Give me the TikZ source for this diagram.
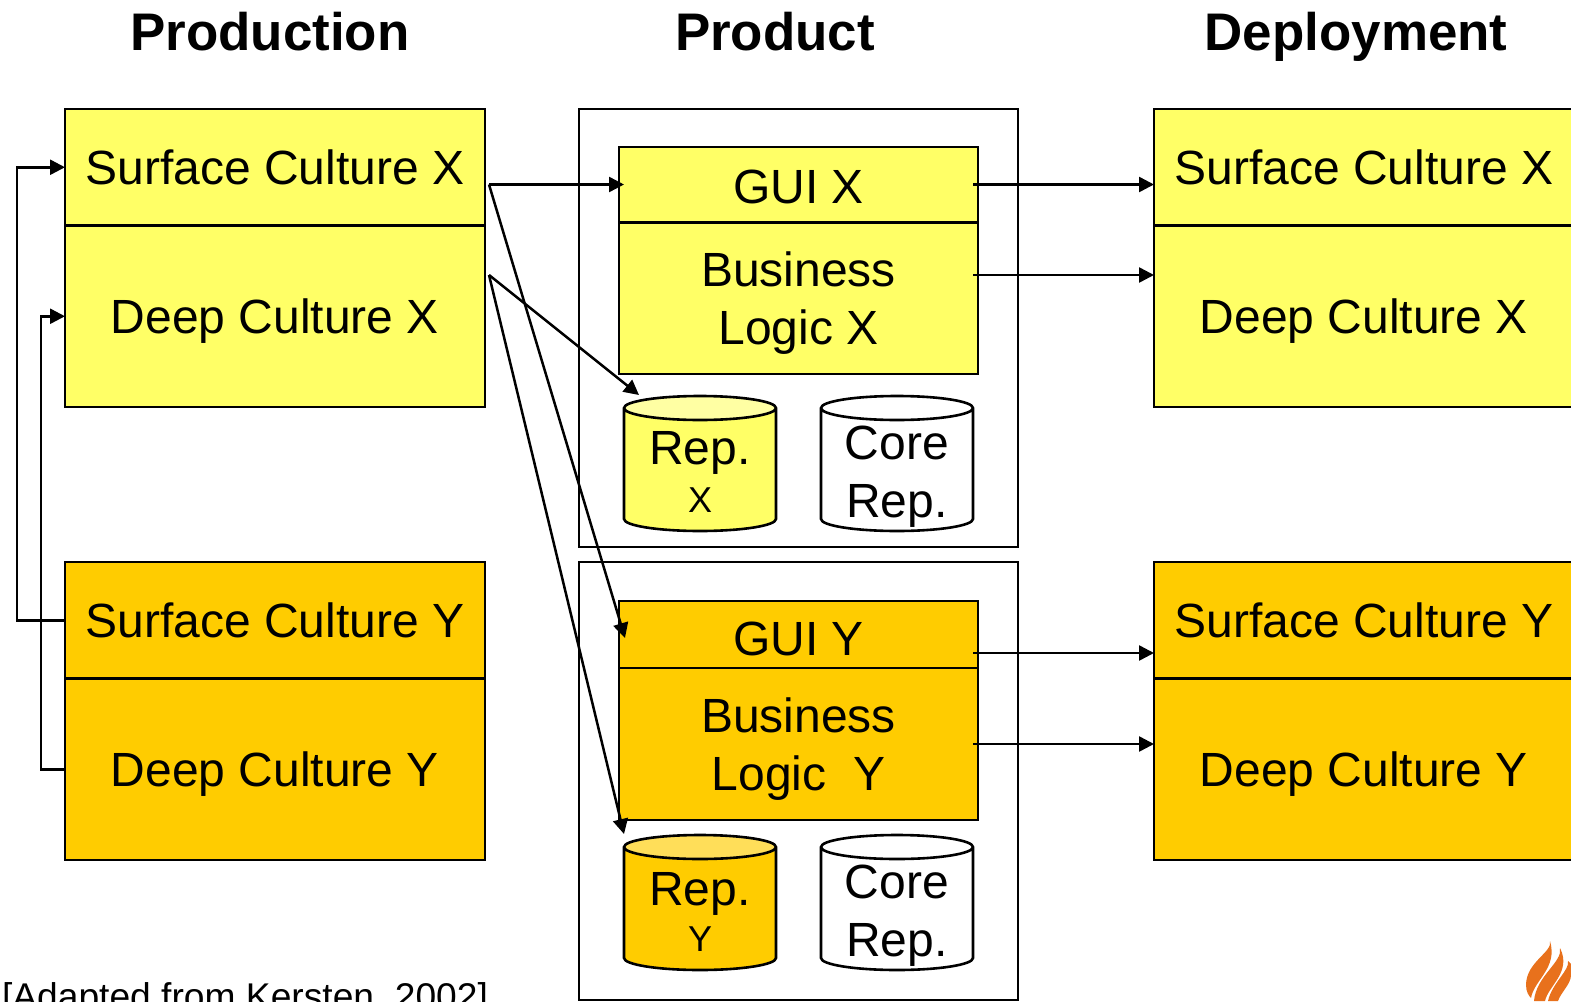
\documentclass[tikz,border=0pt]{standalone}
\usepackage{fontspec}
\setmainfont{Liberation Sans}
\usetikzlibrary{arrows.meta,positioning,shapes.geometric}
\definecolor{cultureX}{HTML}{FFFF66}
\definecolor{cultureY}{HTML}{FFCC00}
\definecolor{flame}{HTML}{E8711C}
\newcommand{\bigtxt}{\fontsize{48}{58}\selectfont}
\newcommand{\smalltxt}{\fontsize{36}{44}\selectfont}
\newcommand{\headtxt}{\fontsize{52.9}{60}\selectfont\bfseries}

\begin{document}
\begin{tikzpicture}[x=1pt,y=-1pt,>={Triangle[length=15pt,width=15pt]},node distance=0pt]
	\useasboundingbox (0,0) rectangle (1571,1001);
	\tikzset{every node/.style={outer sep=0pt,inner sep=0pt,font=\bigtxt,align=center,text height=34pt,text depth=0pt}}
	\tikzset{twolines/.style={text height=92pt,text depth=0pt}}
	\tikzset{box/.style={draw,line width=2.8pt,anchor=north west,minimum width=420pt}}
	\tikzset{sbox/.style={box,minimum height=116.5pt}}
	\tikzset{dbox/.style={box,minimum height=181.5pt}}
	\tikzset{inbox/.style={box,minimum width=359pt}}
	\tikzset{repo/.style={draw,line width=2.6pt,cylinder,shape border rotate=90,inner xsep=50pt,inner ysep=50pt,aspect=0.24,minimum width=152pt,minimum height=135pt,cylinder uses custom fill,anchor=north,text height=0pt}}
	\tikzset{link/.style={->,line width=2.5pt}}

	\node[font=\headtxt,text height=37pt] (production) at (270,32) {Production};
	\node[font=\headtxt,text height=37pt] (product) at (775,32) {Product};
	\node[font=\headtxt,text height=37pt] (deployment) at (1356,32) {Deployment};

	% production
	\node[sbox,fill=cultureX] (surfaceX) at (65,109) {Surface Culture X};
	\node[dbox,fill=cultureX,below=of surfaceX.south west,anchor=north west] (deepX) {Deep Culture X};
	\node[sbox,fill=cultureY] (surfaceY) at (65,562) {Surface Culture Y};
	\node[dbox,fill=cultureY,below=of surfaceY.south west,anchor=north west] (deepY) {Deep Culture Y};

	% deployment
	\node[sbox,fill=cultureX] (depSurfaceX) at (1154,109) {Surface Culture X};
	\node[dbox,fill=cultureX,below=of depSurfaceX.south west,anchor=north west] (depDeepX) {Deep Culture X};
	\node[sbox,fill=cultureY] (depSurfaceY) at (1154,562) {Surface Culture Y};
	\node[dbox,fill=cultureY,below=of depSurfaceY.south west,anchor=north west] (depDeepY) {Deep Culture Y};

	% product
	\node[box,minimum width=439pt,minimum height=438pt] (productX) at (579,109) {};
	\node[box,minimum width=439pt,minimum height=438pt] (productY) at (579,562) {};
	\node[inbox,fill=cultureX,minimum height=75.5pt] (guiX) at (619,147) {\raisebox{-2pt}{GUI X}};
	\node[inbox,twolines,fill=cultureX,minimum height=151.5pt,below=of guiX.south west,anchor=north west] (logicX) {Business\\Logic X};
	\node[inbox,fill=cultureY,minimum height=67pt] (guiY) at (619,601) {\raisebox{-4pt}{GUI Y}};
	\node[inbox,twolines,fill=cultureY,minimum height=152pt,below=of guiY.south west,anchor=north west] (logicY) {Business\\Logic\ \ Y};

	\node[repo,cylinder body fill=cultureX,cylinder end fill=cultureX!60!white] (repX) at (700,396) {};
	\node[repo,cylinder body fill=white,cylinder end fill=white] (coreX) at (897,396) {};
	\node[repo,cylinder body fill=cultureY,cylinder end fill=cultureY!65!white] (repY) at (700,835) {};
	\node[repo,cylinder body fill=white,cylinder end fill=white] (coreY) at (897,835) {};
	\node (repXtxt) at (700,447) {Rep.};
	\node[font=\smalltxt,text height=26pt] (repXsub) at (700,499) {X};
	\node[twolines] (coreXtxt) at (897,471) {Core\\Rep.};
	\node (repYtxt) at (700,888) {Rep.};
	\node[font=\smalltxt,text height=26pt] (repYsub) at (700,938) {Y};
	\node[twolines] (coreYtxt) at (897,910.5) {Core\\Rep.};

	\node[font=\fontsize{37.2}{44}\selectfont,anchor=base west] (source) at (2,1009) {[Adapted from Kersten, 2002]};

	\coordinate (outSurfaceX) at (489,184.5);
	\coordinate (outDeepX) at (489,275);
	\coordinate (inGuiX) at (624,184.5);
	\coordinate (inGuiY) at (625,638);
	\coordinate (inRepX) at (639,395);
	\coordinate (inRepY) at (624,834);
	\coordinate (outGuiX) at (973,184.5);
	\coordinate (outLogicX) at (973,275);
	\coordinate (outGuiY) at (973,653);
	\coordinate (outLogicY) at (973,744);
	\coordinate (endGuiX) at (1154,184.5);
	\coordinate (endLogicX) at (1154,275);
	\coordinate (endGuiY) at (1154,653);
	\coordinate (endLogicY) at (1154,744);
	\coordinate (backSurface) at (17,400);
	\coordinate (backDeep) at (41,500);

	\draw[link] (surfaceY.west) -| (backSurface) |- (surfaceX.west);
	\draw[link] (deepY.west) -| (backDeep) |- (deepX.west);
	\path
	(outSurfaceX) edge [link] (inGuiX)
	(outSurfaceX) edge [link] (inGuiY)
	(outDeepX) edge [link] (inRepX)
	(outDeepX) edge [link] (inRepY)
	(outGuiX) edge [link] (endGuiX)
	(outLogicX) edge [link] (endLogicX)
	(outGuiY) edge [link] (endGuiY)
	(outLogicY) edge [link] (endLogicY);

	% logo
	\fill[flame] (1550,941) .. controls (1553,952) and (1526,962) .. (1526,985) .. controls (1526,992) and (1529,996) .. (1531,998) .. controls (1534,980) and (1558,968) .. (1550,941) -- cycle;
	\fill[flame] (1560,948) .. controls (1563,962) and (1536,976) .. (1534,1001) -- (1545,1001) .. controls (1548,986) and (1572,972) .. (1560,948) -- cycle;
	\fill[flame] (1568,961) .. controls (1570,970) and (1552,983) .. (1548,1001) -- (1558,1001) .. controls (1561,992) and (1571,984) .. (1571,975) -- (1571,964) -- cycle;
\end{tikzpicture}
\end{document}
